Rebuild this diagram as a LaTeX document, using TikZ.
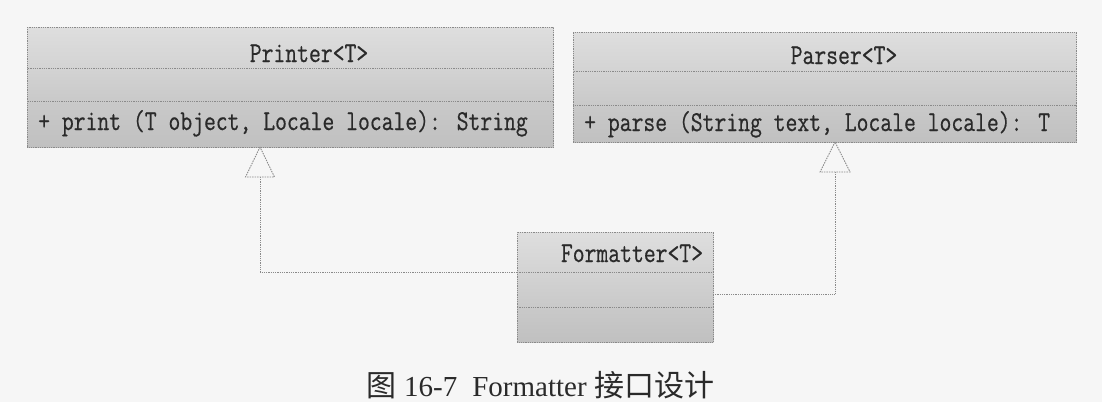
\documentclass[tikz,border=0pt]{standalone}
\usepackage{fontspec}
\newfontfamily\cjk{Noto Sans CJK SC}
\newfontfamily\capserif{Liberation Serif}
\newfontfamily\umlmono{Latin Modern Mono}[FakeBold=0.6]
\definecolor{bgpage}{HTML}{F6F6F6}
\definecolor{linec}{HTML}{8A8A8A}
\definecolor{txt}{HTML}{2A2A2A}
\definecolor{fA}{HTML}{DEDEDE}
\definecolor{fB}{HTML}{D3D3D3}
\definecolor{fC}{HTML}{C9C9C9}
\definecolor{fD}{HTML}{C0C0C0}
\newcommand{\umlt}[1]{\scalebox{1}[1.25]{#1}}
\begin{document}
\begin{tikzpicture}[x=1pt,y=-1pt,
  compart/.style={rectangle, draw=linec, line width=0.9pt, dash pattern=on 1pt off 0.8pt, inner sep=0pt, anchor=north west},
  ctitle/.style={compart, top color=fA, bottom color=fB},
  cattr/.style={compart, top color=fB, bottom color=fC},
  cops/.style={compart, top color=fC, bottom color=fD},
  umltext/.style={font=\umlmono\fontsize{23}{25}\selectfont, text=txt, inner sep=0pt},
  conn/.style={draw=linec, line width=0.9pt, dash pattern=on 1pt off 0.8pt},
  tri/.style={draw=linec, line width=0.9pt, dash pattern=on 1.5pt off 1pt, fill=bgpage}
]
\useasboundingbox (0,0) rectangle (1102,402);
\fill[bgpage] (0,0) rectangle (1102,402);

% Printer<T>
\node[ctitle, minimum width=526pt, minimum height=41pt] (pr-title) at (27,27) {};
\node[cattr, minimum width=526pt, minimum height=33pt] (pr-attr) at (27,68) {};
\node[cops, minimum width=526pt, minimum height=46pt] (pr-ops) at (27,101) {};
\node[umltext, anchor=base] (pr-name) at (309,62) {\umlt{Printer<T>}};
\node[umltext, anchor=base west] (pr-meth) at (38,130) {\umlt{+ print (T object, Locale locale): String}};

% Parser<T>
\node[ctitle, minimum width=503pt, minimum height=39pt] (pa-title) at (573,32) {};
\node[cattr, minimum width=503pt, minimum height=34pt] (pa-attr) at (573,71) {};
\node[cops, minimum width=503pt, minimum height=37pt] (pa-ops) at (573,105) {};
\node[umltext, anchor=base] (pa-name) at (844,64) {\umlt{Parser<T>}};
\node[umltext, anchor=base west] (pa-meth) at (584,131) {\umlt{+ parse (String text, Locale locale): T}};

% Formatter<T>
\node[ctitle, minimum width=196pt, minimum height=40pt] (fm-title) at (517,232) {};
\node[cattr, minimum width=196pt, minimum height=35pt] (fm-attr) at (517,272) {};
\node[cops, minimum width=196pt, minimum height=35pt] (fm-ops) at (517,307) {};
\node[umltext, anchor=base] (fm-name) at (632,262) {\umlt{Formatter<T>}};

% realization connectors
\coordinate (pr-tip) at (260,147);
\coordinate (pr-base) at (260,177);
\coordinate (pa-tip) at (835,142);
\coordinate (pa-base) at (835,172);
\coordinate (fm-r) at (713,294);
\draw[conn] (fm-attr.north west) -| (pr-base);
\draw[conn] (fm-r) -| (pa-base);
\draw[tri] (pr-tip) -- ++(-14.5,30) -- ++(29,0) -- cycle;
\draw[tri] (pa-tip) -- ++(-15,30) -- ++(30,0) -- cycle;

% caption
\node[anchor=base west, inner sep=0pt, text=txt, font=\capserif\fontsize{29}{31}\selectfont] (cap) at (366,396)
  {{\cjk\fontsize{30}{33}\selectfont 图}\hspace{8pt}16-7\hspace{15pt}Formatter\hspace{8pt}{\cjk\fontsize{30}{33}\selectfont 接口设计}};
\end{tikzpicture}
\end{document}
